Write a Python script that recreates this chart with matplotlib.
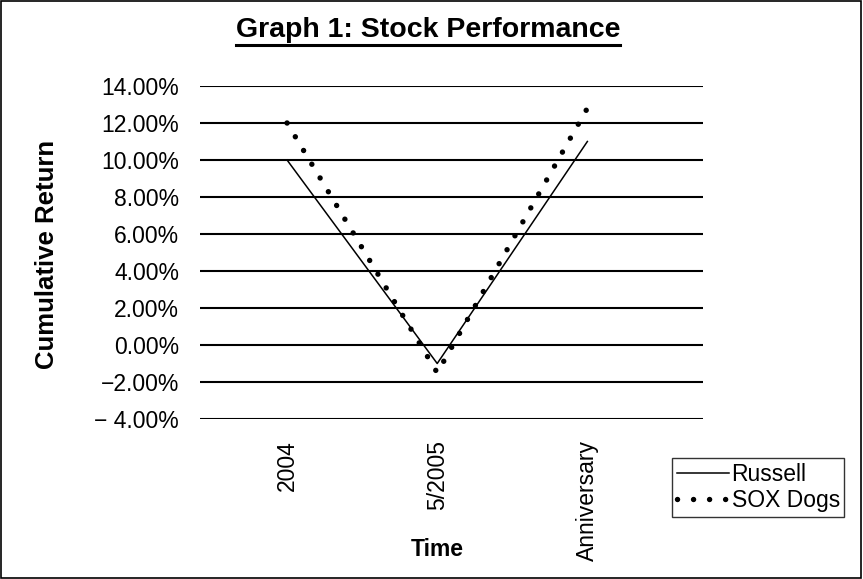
import matplotlib
matplotlib.use("Agg")
from matplotlib import pyplot as plt
from matplotlib.lines import Line2D
from matplotlib.patches import Rectangle

plt.rcParams['font.family'] = ['Liberation Sans', 'DejaVu Sans']

periods = ["2004", "5/2005", "Anniversary"]
russell = [10.0, -1.0, 11.0]
sox_dogs = [12.0, -1.5, 12.8]

y_ticks = [-4, -2, 0, 2, 4, 6, 8, 10, 12, 14]
y_tick_labels = ["\u2212 4.00%", "\u22122.00%", "0.00%", "2.00%", "4.00%",
                 "6.00%", "8.00%", "10.00%", "12.00%", "14.00%"]

fs = 16.5

fig = plt.figure(figsize=(8.63, 5.79), dpi=100)
ax = fig.add_axes([0.2317, 0.2763, 0.5829, 0.5752])

x = list(range(len(periods)))
ax.plot(x, russell, color='black', linewidth=1.1, label='Russell')
ax.plot(x, sox_dogs, color='black', linewidth=3.9,
        linestyle=(0, (0.01, 2.95)), dash_capstyle='round', label='SOX Dogs')

ax.set_xlim(-0.58, 2.77)
ax.set_ylim(-4, 14)
ax.set_yticks(y_ticks)
ax.set_yticklabels(y_tick_labels, fontsize=fs)
ax.set_xticks(x)
ax.set_xticklabels(periods, rotation=90, fontsize=fs, va='top')
ax.tick_params(axis='both', length=0)
ax.tick_params(axis='y', pad=15)
ax.tick_params(axis='x', pad=15)
for s in ax.spines.values():
    s.set_visible(False)
ax.grid(axis='y', color='black', linewidth=1.5)
ax.set_axisbelow(True)

fig.text(0.0545, 0.56, "Cumulative Return", rotation=90, ha='center', va='center',
         fontsize=18.5, fontweight='bold')
fig.text(437 / 863, 1 - 550 / 579, "Time", ha='center', va='center',
         fontsize=fs, fontweight='bold')

title = fig.text(428 / 863, 1 - 30 / 579, "Graph 1: Stock Performance",
                 ha='center', va='center', fontsize=20.5, fontweight='bold')

leg = fig.legend(loc='upper left', bbox_to_anchor=(672 / 863, 1 - 458 / 579),
                 fontsize=fs, frameon=True, fancybox=False, borderaxespad=0,
                 handlelength=2.3, handletextpad=0.1, borderpad=0.2,
                 labelspacing=0.15)
leg.get_frame().set_edgecolor('black')
leg.get_frame().set_linewidth(1.0)

# underline under the title, sized from the rendered text
fig.canvas.draw()
bb = title.get_window_extent().transformed(fig.transFigure.inverted())
fig.add_artist(Line2D([bb.x0, bb.x1], [bb.y0 - 0.004, bb.y0 - 0.004],
                      color='black', linewidth=2.2, transform=fig.transFigure))

fig.add_artist(Rectangle((0.001, 0.002), 0.997, 0.996, fill=False,
                         edgecolor='black', linewidth=1.2,
                         transform=fig.transFigure))

fig.savefig("out.png", dpi=100)
